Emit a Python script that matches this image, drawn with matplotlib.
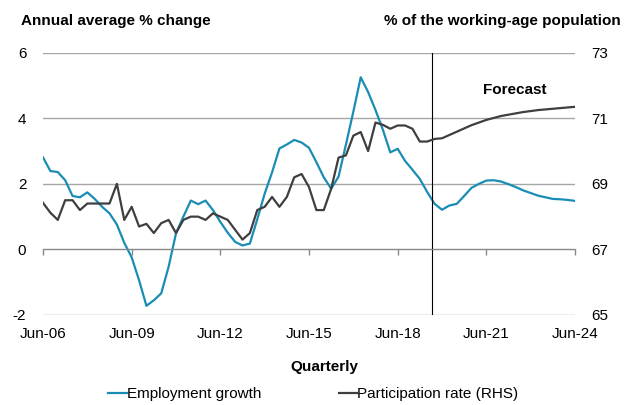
import matplotlib
matplotlib.use("Agg")
import matplotlib.pyplot as plt
import numpy as np

plt.rcParams['font.family'] = ['Liberation Sans', 'DejaVu Sans']
plt.rcParams['font.size'] = 11
plt.rcParams['axes.unicode_minus'] = False

# quarterly series, Jun-06 to Jun-24
employment_growth = [
    2.81, 2.39, 2.36, 2.11, 1.63, 1.59, 1.74, 1.54, 1.30, 1.10,
    0.76, 0.20, -0.24, -0.94, -1.72, -1.55, -1.34, -0.53, 0.49, 1.00,
    1.49, 1.38, 1.49, 1.20, 0.84, 0.51, 0.23, 0.12, 0.18, 0.92,
    1.70, 2.35, 3.08, 3.20, 3.34, 3.26, 3.10, 2.66, 2.20, 1.85,
    2.22, 3.20, 4.20, 5.25, 4.80, 4.25, 3.65, 2.96, 3.07, 2.70,
    2.43, 2.15, 1.75, 1.39, 1.21, 1.34, 1.39, 1.63, 1.88, 2.00,
    2.10, 2.11, 2.07, 1.99, 1.90, 1.80, 1.72, 1.64, 1.59, 1.54,
    1.53, 1.51, 1.48,
]
participation_rate = [
    68.42, 68.12, 67.90, 68.50, 68.50, 68.20, 68.40, 68.40, 68.40, 68.40,
    69.00, 67.90, 68.30, 67.70, 67.78, 67.50, 67.80, 67.90, 67.50, 67.90,
    68.00, 68.00, 67.90, 68.10, 68.00, 67.90, 67.60, 67.30, 67.50, 68.20,
    68.30, 68.60, 68.30, 68.60, 69.20, 69.30, 68.90, 68.20, 68.20, 68.85,
    69.80, 69.87, 70.47, 70.58, 70.00, 70.87, 70.80, 70.68, 70.78, 70.78,
    70.68, 70.29, 70.29, 70.37, 70.39, 70.49, 70.59, 70.69, 70.79, 70.87,
    70.95, 71.01, 71.07, 71.11, 71.15, 71.19, 71.22, 71.25, 71.27, 71.29,
    71.31, 71.33, 71.35,
]
tick_labels = ['Jun-06', 'Jun-09', 'Jun-12', 'Jun-15', 'Jun-18', 'Jun-21', 'Jun-24']
left_ticks = [-2, 0, 2, 4, 6]
right_ticks = [65, 67, 69, 71, 73]
forecast_start = 52.6  # quarters after Jun-06

teal = '#1A8DB4'
dark = '#3F3F3F'
grid_grey = '#A6A6A6'

x = np.arange(len(employment_growth))
tick_pos = np.arange(0, len(x), 12)

fig = plt.figure(figsize=(6.29, 4.05), dpi=100)
ax = fig.add_axes([43 / 629, 90 / 405, 532 / 629, 262.3 / 405])
ax2 = ax.twinx()

ax.plot(x, employment_growth, color=teal, lw=1.6, label='Employment growth')
ax2.plot(x, participation_rate, color=dark, lw=1.6, label='Participation rate (RHS)')

ax.set_xlim(0, len(x) - 1)
ax.set_ylim(-2, 6)
ax2.set_ylim(65, 73)
ax.set_yticks(left_ticks)
ax2.set_yticks(right_ticks)

ax.yaxis.grid(True, color=grid_grey, lw=1)
ax.set_axisbelow(True)
ax.axvline(forecast_start, color='black', lw=0.8)

for a in (ax, ax2):
    for side in ('top', 'left', 'right'):
        a.spines[side].set_visible(False)
ax2.spines['bottom'].set_visible(False)

# x axis sits on zero, labels stay along the bottom
ax.spines['bottom'].set_position(('data', 0))
ax.spines['bottom'].set_color('#888888')
ax.set_xticks(tick_pos)
ax.tick_params(axis='x', length=4, width=1, color='#888888', labelbottom=False)
secax = ax.secondary_xaxis(0.0)
secax.set_xticks(tick_pos, tick_labels)
secax.spines['bottom'].set_visible(False)
secax.tick_params(axis='x', length=0, pad=9, labelsize=11)

ax.tick_params(axis='y', length=0, pad=12, labelsize=11)
ax2.tick_params(axis='y', length=0, pad=12, labelsize=11)

fig.text(21 / 629, 1 - 25.5 / 405, 'Annual average % change', fontweight='bold',
         ha='left', va='baseline')
fig.text(621 / 629, 1 - 25.5 / 405, '% of the working-age population', fontweight='bold',
         ha='right', va='baseline')
fig.text(514.7 / 629, 1 - 94 / 405, 'Forecast', fontweight='bold', ha='center', va='baseline')
fig.text(324.5 / 629, 1 - 370.5 / 405, 'Quarterly', fontweight='bold', ha='center', va='baseline')

h1, l1 = ax.get_legend_handles_labels()
h2, l2 = ax2.get_legend_handles_labels()
fig.legend(h1 + h2, l1 + l2, loc='center', bbox_to_anchor=(313.5 / 629, 1 - 394 / 405),
           ncol=2, frameon=False, handlelength=1.2, handletextpad=0.0,
           columnspacing=5.1, fontsize=11, borderpad=0)

fig.savefig('out.png', dpi=100)
